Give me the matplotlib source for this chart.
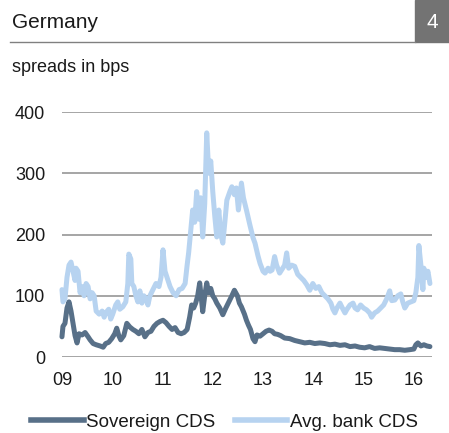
import matplotlib.pyplot as plt
from matplotlib.lines import Line2D

plt.rcParams['font.family'] = ['Liberation Sans', 'DejaVu Sans']

# bank CDS average (year fraction, bps)
bank_t = [2009.00, 2009.02, 2009.06, 2009.10, 2009.14, 2009.18, 2009.22, 2009.26, 2009.28, 2009.32,
          2009.36, 2009.40, 2009.44, 2009.48, 2009.52, 2009.56, 2009.60, 2009.64, 2009.68, 2009.74,
          2009.80, 2009.84, 2009.87, 2009.93, 2009.97, 2010.01, 2010.07, 2010.11, 2010.15, 2010.21,
          2010.27, 2010.31, 2010.33, 2010.37, 2010.39, 2010.43, 2010.47, 2010.51, 2010.55, 2010.59,
          2010.63, 2010.67, 2010.71, 2010.75, 2010.81, 2010.87, 2010.93, 2010.97, 2011.01, 2011.05,
          2011.09, 2011.15, 2011.21, 2011.27, 2011.33, 2011.39, 2011.45, 2011.49, 2011.52, 2011.56,
          2011.60, 2011.64, 2011.68, 2011.72, 2011.76, 2011.80, 2011.84, 2011.88, 2011.92, 2011.96,
          2012.00, 2012.04, 2012.08, 2012.12, 2012.16, 2012.20, 2012.24, 2012.28, 2012.34, 2012.38,
          2012.43, 2012.47, 2012.51, 2012.57, 2012.61, 2012.67, 2012.74, 2012.80, 2012.84, 2012.90,
          2012.94, 2013.00, 2013.04, 2013.10, 2013.14, 2013.18, 2013.23, 2013.27, 2013.33, 2013.39,
          2013.43, 2013.47, 2013.51, 2013.57, 2013.63, 2013.69, 2013.75, 2013.81, 2013.87, 2013.93,
          2013.99, 2014.05, 2014.11, 2014.17, 2014.23, 2014.29, 2014.35, 2014.39, 2014.43, 2014.47,
          2014.53, 2014.59, 2014.63, 2014.67, 2014.73, 2014.79, 2014.83, 2014.88, 2014.94, 2015.00,
          2015.06, 2015.12, 2015.16, 2015.22, 2015.28, 2015.34, 2015.40, 2015.46, 2015.52, 2015.56,
          2015.62, 2015.68, 2015.74, 2015.78, 2015.82, 2015.88, 2015.94, 2016.00, 2016.04, 2016.08,
          2016.10, 2016.14, 2016.18, 2016.20, 2016.24, 2016.28, 2016.32]
bank_v = [110, 90, 95, 130, 150, 155, 140, 125, 145, 140,
          105, 115, 100, 120, 115, 95, 105, 100, 75, 70,
          75, 65, 72, 78, 62, 70, 85, 90, 78, 82,
          90, 120, 168, 160, 120, 115, 100, 90, 108, 88,
          100, 95, 85, 100, 110, 120, 115, 130, 175, 140,
          130, 115, 105, 100, 110, 112, 120, 150, 170, 205,
          240, 220, 270, 225, 260, 196, 250, 366, 300, 320,
          270, 230, 196, 240, 200, 186, 220, 256, 270, 278,
          265, 276, 240, 284, 260, 240, 215, 195, 186, 165,
          153, 140, 137, 145, 140, 142, 164, 150, 137, 145,
          150, 170, 145, 150, 148, 135, 130, 125, 118, 109,
          120, 112, 115, 105, 100, 95, 88, 78, 72, 80,
          88, 78, 72, 78, 85, 88, 80, 77, 85, 80,
          77, 72, 65, 72, 75, 80, 85, 95, 108, 92,
          93, 100, 103, 90, 80, 88, 90, 92, 105, 130,
          182, 150, 110, 145, 130, 140, 120]

# sovereign CDS (year fraction, bps)
sov_t = [2009.00, 2009.02, 2009.06, 2009.10, 2009.14, 2009.18, 2009.22, 2009.26, 2009.30, 2009.34,
         2009.40, 2009.46, 2009.52, 2009.56, 2009.62, 2009.68, 2009.76, 2009.82, 2009.87, 2009.93,
         2009.99, 2010.05, 2010.09, 2010.13, 2010.17, 2010.23, 2010.29, 2010.35, 2010.41, 2010.47,
         2010.53, 2010.59, 2010.65, 2010.71, 2010.77, 2010.83, 2010.89, 2010.95, 2011.01, 2011.07,
         2011.13, 2011.19, 2011.25, 2011.31, 2011.37, 2011.43, 2011.49, 2011.54, 2011.58, 2011.62,
         2011.66, 2011.70, 2011.74, 2011.78, 2011.80, 2011.84, 2011.88, 2011.92, 2011.96, 2012.00,
         2012.04, 2012.08, 2012.14, 2012.20, 2012.26, 2012.32, 2012.38, 2012.43, 2012.49, 2012.53,
         2012.57, 2012.63, 2012.67, 2012.71, 2012.75, 2012.80, 2012.84, 2012.88, 2012.94, 2013.00,
         2013.06, 2013.12, 2013.18, 2013.23, 2013.29, 2013.35, 2013.43, 2013.53, 2013.63, 2013.73,
         2013.83, 2013.93, 2014.03, 2014.13, 2014.23, 2014.33, 2014.43, 2014.53, 2014.63, 2014.73,
         2014.83, 2014.92, 2015.02, 2015.12, 2015.22, 2015.32, 2015.42, 2015.52, 2015.62, 2015.72,
         2015.82, 2015.92, 2016.00, 2016.04, 2016.08, 2016.14, 2016.20, 2016.26, 2016.32]
sov_v = [33, 50, 55, 80, 90, 75, 55, 35, 23, 38,
         36, 40, 33, 28, 22, 20, 18, 16, 22, 24,
         30, 38, 47, 35, 28, 35, 55, 49, 45, 42,
         38, 45, 33, 40, 42, 50, 55, 58, 60, 56,
         50, 45, 48, 40, 38, 40, 45, 65, 85, 80,
         88, 100, 121, 90, 74, 100, 121, 105, 112, 100,
         95, 88, 80, 69, 80, 90, 100, 109, 100, 88,
         82, 70, 60, 52, 45, 30, 25, 36, 34, 38,
         42, 44, 42, 38, 37, 35, 31, 30, 27, 25,
         23, 24, 22, 23, 22, 20, 21, 19, 20, 17,
         18, 16, 15, 17, 14, 15, 14, 13, 12, 12,
         11, 12, 13, 20, 23, 18, 20, 18, 17]

year_ticks = [2009, 2010, 2011, 2012, 2013, 2014, 2015, 2016]
year_labels = ['09', '10', '11', '12', '13', '14', '15', '16']

sov_color = '#587088'
bank_color = '#b7d3f0'

fig = plt.figure(figsize=(4.49, 4.33), dpi=100)
ax = fig.add_axes([0.138, 0.1755, 0.824, 0.5658])

for y in [0, 100, 200, 300, 400]:
    ax.axhline(y, color='#9e9e9e', lw=1.3, zorder=0)

ax.plot(bank_t, bank_v, color=bank_color, lw=3.6, solid_joinstyle='round',
        solid_capstyle='round', clip_on=False)
ax.plot(sov_t, sov_v, color=sov_color, lw=3.6, solid_joinstyle='round',
        solid_capstyle='round', clip_on=False)

ax.set_xlim(2009, 2016.36)
ax.set_ylim(0, 400)
ax.set_yticks([0, 100, 200, 300, 400])
ax.set_xticks(year_ticks)
ax.set_xticklabels(year_labels)
ax.tick_params(length=0, labelsize=13, colors='#1a1a1a')
ax.tick_params(axis='y', pad=12)
ax.tick_params(axis='x', pad=11)
for s in ax.spines.values():
    s.set_visible(False)

# header
fig.text(12 / 449, 1 - 22 / 433, 'Germany', fontsize=15, va='center', ha='left', color='#1a1a1a')
fig.add_artist(Line2D([10 / 449, 415 / 449], [1 - 42 / 433, 1 - 42 / 433], color='#808080', lw=1.0))
fig.patches.append(plt.Rectangle((415 / 449, 1 - 42 / 433), 34 / 449, 42 / 433,
                                 transform=fig.transFigure, color='#737373'))
fig.text(432 / 449, 1 - 22 / 433, '4', fontsize=15, va='center', ha='center', color='white')
fig.text(12 / 449, 1 - 68 / 433, 'spreads in bps', fontsize=13, va='center', ha='left', color='#1a1a1a')

handles = [Line2D([], [], color=sov_color, lw=4), Line2D([], [], color=bank_color, lw=4)]
fig.legend(handles, ['Sovereign CDS', 'Avg. bank CDS'], loc='center', bbox_to_anchor=(0.5, 1 - 422 / 433),
           ncol=2, frameon=False, fontsize=13.5, handlelength=2.8, handletextpad=0.15, columnspacing=1.0,
           borderpad=0, labelcolor='#1a1a1a')

fig.savefig('out.png', dpi=100)
